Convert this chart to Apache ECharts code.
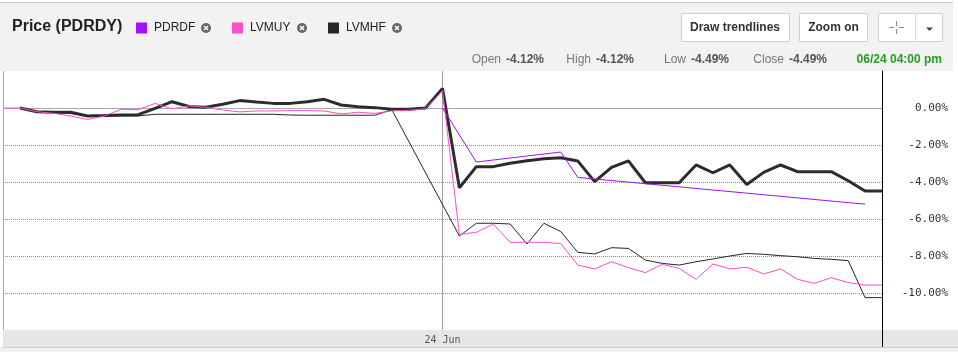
<!DOCTYPE html>
<html>
<head>
<meta charset="utf-8">
<script src="https://cdn.jsdelivr.net/npm/echarts@6/dist/echarts.min.js"></script>
<style>
html,body{margin:0;padding:0;background:#fff;}
#chart{width:958px;height:352px;}
</style>
</head>
<body>
<div id="chart"></div>
<script>
// ---- categories (15-minute bars) ----
const categories = [
  '06/23 09:45','06/23 10:00','06/23 10:15','06/23 10:30','06/23 10:45','06/23 11:00','06/23 11:15','06/23 11:30',
  '06/23 11:45','06/23 12:00','06/23 12:15','06/23 12:30','06/23 12:45','06/23 13:00','06/23 13:15','06/23 13:30',
  '06/23 13:45','06/23 14:00','06/23 14:15','06/23 14:30','06/23 14:45','06/23 15:00','06/23 15:15','06/23 15:30',
  '06/23 15:45','06/23 16:00',
  '06/24 09:30','06/24 09:45','06/24 10:00','06/24 10:15','06/24 10:30','06/24 10:45','06/24 11:00','06/24 11:15',
  '06/24 11:30','06/24 11:45','06/24 12:00','06/24 12:15','06/24 12:30','06/24 12:45','06/24 13:00','06/24 13:15',
  '06/24 13:30','06/24 13:45','06/24 14:00','06/24 14:15','06/24 14:30','06/24 14:45','06/24 15:00','06/24 15:15',
  '06/24 15:30','06/24 15:45','06/24 16:00'
];
const dayTickCategory = '06/24 09:30';
const dayTickLabel = '24 Jun';

// ---- series values (% change) ----
const PDRDY = [null, 0.00, -0.20, -0.23, -0.23, -0.43, -0.41, -0.38, -0.36, -0.02, 0.34, 0.08, 0.04, 0.20, 0.40, 0.32,
  0.25, 0.25, 0.34, 0.47, 0.16, 0.07, 0.02, -0.07, -0.07, 0.00,
  1.06, -4.31, -3.17, -3.17, -2.99, -2.85, -2.74, -2.69, -2.86, -3.98, -3.21, -2.86, -4.04, -4.04, -4.04, -3.08,
  -3.50, -3.08, -4.13, -3.48, -3.08, -3.44, -3.44, -3.44, -3.93, -4.49, -4.49];
const PDRDF = [null, null, null, null, null, null, null, null, null, null, null, null, null, null, null, null,
  null, null, null, null, null, null, null, null, null, null,
  0.00, null, -2.92, null, null, null, null, -2.38, -3.75, null, null, null, null, null, null, null,
  null, null, null, null, null, null, null, null, null, -5.20, null];
const LVMUY = [0.00, 0.00, -0.20, -0.29, -0.43, -0.62, -0.43, -0.07, -0.09, 0.25, -0.05, 0.11, 0.04, -0.11, -0.21, -0.16,
  -0.16, -0.14, -0.14, -0.16, -0.32, -0.23, -0.29, -0.16, -0.13, -0.04,
  0.94, -6.83, -6.72, -6.27, -7.26, -7.26, -7.26, -7.33, -8.49, -8.70, -8.31, -8.63, -8.90, -8.45, -8.67, -9.26,
  -8.43, -8.70, -8.61, -8.97, -8.70, -9.26, -9.48, -9.17, -9.44, -9.57, -9.57];
const LVMHF = [null, 0.00, -0.20, -0.25, -0.30, -0.43, -0.43, -0.43, -0.43, -0.34, -0.34, -0.34, -0.34, -0.34, -0.34, -0.34,
  -0.34, -0.38, -0.39, -0.39, -0.39, -0.39, -0.39, -0.09, null, null,
  null, -6.92, -6.23, -6.23, -6.27, -7.35, -6.23, -6.68, -7.80, -7.89, -7.55, -7.59, -8.22, -8.40, -8.49, -8.31,
  -8.16, -8.00, -7.86, -7.91, -7.98, -8.04, -8.13, -8.18, -8.25, -10.25, -10.25];

// ---- y axis ticks ----
const yMin = -12, yMax = 2, yStep = 2;

// ---- header info ----
const quote = { open: '-4.12%', high: '-4.12%', low: '-4.49%', close: '-4.49%', time: '06/24 04:00 pm' };

const colors = { PDRDY: '#2c2c2c', PDRDF: '#a012f7', LVMUY: '#fb4fc8', LVMHF: '#262626' };
const SANS = '"Liberation Sans", Arial, Helvetica, sans-serif';
const MONO = '"DejaVu Sans Mono", monospace';
const dayIdx = categories.indexOf(dayTickCategory);

function closeIcon(cx, cy) {
  return {
    type: 'group', x: cx, y: cy, children: [
      { type: 'circle', shape: { cx: 0, cy: 0, r: 5 }, style: { fill: '#666' } },
      { type: 'line', shape: { x1: -2, y1: -2, x2: 2, y2: 2 }, style: { stroke: '#fff', lineWidth: 1.4 } },
      { type: 'line', shape: { x1: 2, y1: -2, x2: -2, y2: 2 }, style: { stroke: '#fff', lineWidth: 1.4 } }
    ]
  };
}
function txt(x, y, text, font, fill, align) {
  return { type: 'text', x: x, y: y, style: { text: text, font: font, fill: fill, align: align || 'left', verticalAlign: 'middle' } };
}
function button(x, y, w, h) {
  return { type: 'rect', shape: { x: x + 0.5, y: y + 0.5, width: w, height: h }, style: { fill: '#fff', stroke: '#cfcfcf', lineWidth: 1 } };
}

const graphics = [
  { type: 'rect', z: -10, shape: { x: 0, y: 0, width: 953, height: 71 }, style: { fill: '#f2f2f2' } },
  { type: 'rect', z: -10, shape: { x: 0, y: 0, width: 958, height: 2 }, style: { fill: '#fff' } },
  { type: 'line', z: -9, shape: { x1: 0, y1: 2.5, x2: 953, y2: 2.5 }, style: { stroke: '#c8c8c8', lineWidth: 1 } },
  { type: 'rect', z: -10, shape: { x: 3, y: 330, width: 955, height: 17 }, style: { fill: '#e6e6e6' } },
  { type: 'rect', z: -10, shape: { x: 0, y: 347, width: 958, height: 5 }, style: { fill: '#f2f2f2' } },
  { type: 'line', z: -9, shape: { x1: 3, y1: 347.5, x2: 958, y2: 347.5 }, style: { stroke: '#cccccc', lineWidth: 1 } },
  { type: 'line', z: 5, shape: { x1: 3.5, y1: 71, x2: 3.5, y2: 330 }, style: { stroke: '#a8a8a8', lineWidth: 1 } },
  { type: 'line', z: 5, shape: { x1: 882.5, y1: 330, x2: 882.5, y2: 347 }, style: { stroke: '#000', lineWidth: 1 } },
  txt(12, 26.5, 'Price (PDRDY)', 'bold 16px ' + SANS, '#222'),
  closeIcon(206, 28), closeIcon(302, 28), closeIcon(397, 28),
  button(681, 13, 108, 28), txt(735, 27.5, 'Draw trendlines', 'bold 12px ' + SANS, '#333', 'center'),
  button(799, 13, 68, 28), txt(833.5, 27.5, 'Zoom on', 'bold 12px ' + SANS, '#333', 'center'),
  button(878, 13, 64, 28),
  { type: 'line', shape: { x1: 915.5, y1: 14, x2: 915.5, y2: 41 }, style: { stroke: '#dcdcdc', lineWidth: 1 } },
  { type: 'line', shape: { x1: 896.5, y1: 21, x2: 896.5, y2: 26 }, style: { stroke: '#8a8a8a', lineWidth: 1 } },
  { type: 'line', shape: { x1: 896.5, y1: 29, x2: 896.5, y2: 34 }, style: { stroke: '#8a8a8a', lineWidth: 1 } },
  { type: 'line', shape: { x1: 889, y1: 27.5, x2: 894, y2: 27.5 }, style: { stroke: '#8a8a8a', lineWidth: 1 } },
  { type: 'line', shape: { x1: 899, y1: 27.5, x2: 904, y2: 27.5 }, style: { stroke: '#8a8a8a', lineWidth: 1 } },
  { type: 'polygon', shape: { points: [[926, 27.5], [933, 27.5], [929.5, 31]] }, style: { fill: '#444' } },
  txt(501, 60, 'Open', '12px ' + SANS, '#777', 'right'),
  txt(506, 60, quote.open, 'bold 12px ' + SANS, '#555'),
  txt(591, 60, 'High', '12px ' + SANS, '#777', 'right'),
  txt(596, 60, quote.high, 'bold 12px ' + SANS, '#555'),
  txt(686, 60, 'Low', '12px ' + SANS, '#777', 'right'),
  txt(691, 60, quote.low, 'bold 12px ' + SANS, '#555'),
  txt(784, 60, 'Close', '12px ' + SANS, '#777', 'right'),
  txt(789, 60, quote.close, 'bold 12px ' + SANS, '#555'),
  txt(942, 60, quote.time, 'bold 12px ' + SANS, '#22a022', 'right')
];

function legendAt(name, left) {
  return {
    data: [name], left: left, top: 22, icon: 'rect', itemWidth: 11, itemHeight: 11, itemGap: 0, padding: 0,
    textStyle: { fontFamily: SANS, fontSize: 12, color: '#222', padding: [0, 0, 0, 2] },
    selectedMode: false
  };
}

const chart = echarts.init(document.getElementById('chart'), null, { renderer: 'canvas' });
chart.setOption({
  animation: false,
  backgroundColor: '#fff',
  legend: [legendAt('PDRDF', 136), legendAt('LVMUY', 232), legendAt('LVMHF', 328)],
  graphic: graphics,
  grid: { left: 3, right: 76, top: 71, bottom: 22, containLabel: false },
  xAxis: {
    type: 'category', data: categories, boundaryGap: false,
    axisLine: { show: true, lineStyle: { color: '#a8a8a8', width: 1 } },
    axisTick: { show: false },
    axisLabel: {
      interval: function (i) { return i === dayIdx; },
      formatter: function (v) { return v === dayTickCategory ? dayTickLabel : ''; },
      fontFamily: MONO, fontSize: 10, color: '#555', margin: 5
    },
    splitLine: { show: true, interval: function (i) { return i === dayIdx; }, lineStyle: { color: '#a0a0a0', width: 1, type: 'solid' } }
  },
  yAxis: {
    type: 'value', position: 'right', min: yMin, max: yMax, interval: yStep,
    axisLine: { show: true, lineStyle: { color: '#000', width: 1 } },
    axisTick: { show: false },
    axisLabel: {
      formatter: function (v) { return v.toFixed(2) + '%'; },
      align: 'right', margin: 66, showMinLabel: false, showMaxLabel: false,
      fontFamily: MONO, fontSize: 11, color: '#333'
    },
    splitLine: { show: true, showMinLine: false, showMaxLine: false, lineStyle: { color: '#8c8c8c', width: 1, type: [1, 1] } }
  },
  series: [
    { name: 'PDRDY', type: 'line', data: PDRDY, showSymbol: false, connectNulls: true, color: colors.PDRDY,
      lineStyle: { width: 3, color: colors.PDRDY }, z: 2 },
    { name: 'LVMHF', type: 'line', data: LVMHF, showSymbol: false, connectNulls: true, color: colors.LVMHF,
      lineStyle: { width: 1, color: colors.LVMHF }, z: 3 },
    { name: 'LVMUY', type: 'line', data: LVMUY, showSymbol: false, connectNulls: true, color: colors.LVMUY,
      lineStyle: { width: 1, color: colors.LVMUY }, z: 3 },
    { name: 'PDRDF', type: 'line', data: PDRDF, showSymbol: false, connectNulls: true, color: colors.PDRDF,
      lineStyle: { width: 1, color: colors.PDRDF }, z: 3 }
  ]
});
</script>
</body>
</html>
